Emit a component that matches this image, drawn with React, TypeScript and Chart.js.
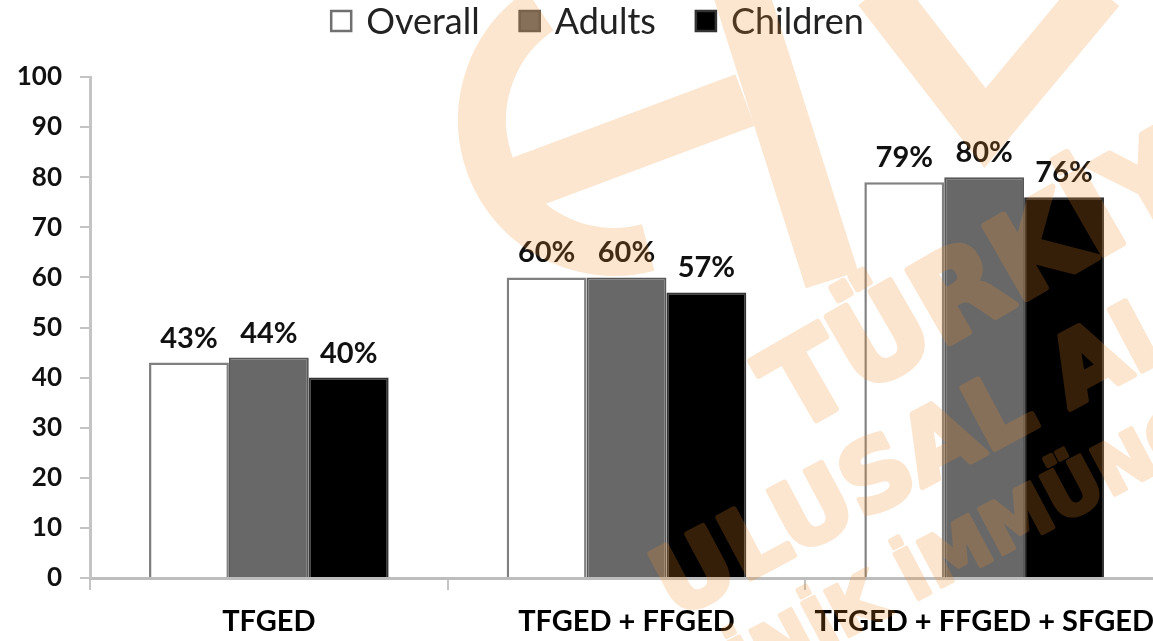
import React, { useEffect, useRef } from "react";
import { Chart, registerables } from "chart.js";

Chart.register(...registerables);

// ---- data ----
const categories = ["TFGED", "TFGED + FFGED", "TFGED + FFGED + SFGED"];
const seriesNames = ["Overall", "Adults", "Children"];
const overallValues = [43, 60, 79];
const adultsValues = [44, 60, 80];
const childrenValues = [40, 57, 76];
const yMin = 0;
const yMax = 100;
const yStep = 10;
const watermarkTexts = ["TÜRKİYE", "ULUSAL ALERJİ", "KLİNİK ", "İMMÜNOLOJİ"];

// ---- styles ----
const fills = ["#ffffff", "#686868", "#000000"];
const borders = ["#808080", "#585858", "#333333"];
const FONT = "Lato, 'Liberation Sans', Arial, sans-serif";
const WM_FONT = "'DejaVu Sans', 'Liberation Sans', Arial, sans-serif";

const valueLabelPlugin = {
  id: "valueLabels",
  afterDatasetsDraw(chart: any) {
    const ctx = chart.ctx;
    ctx.save();
    ctx.font = `bold 29px ${FONT}`;
    ctx.fillStyle = "#111";
    ctx.textAlign = "center";
    ctx.textBaseline = "alphabetic";
    chart.data.datasets.forEach((ds: any, di: number) => {
      const meta = chart.getDatasetMeta(di);
      meta.data.forEach((el: any, i: number) => {
        ctx.fillText(`${ds.data[i]}%`, el.x, el.y - 15);
      });
    });
    ctx.restore();
  },
};

const customLegendPlugin = {
  id: "customLegend",
  afterDraw(chart: any) {
    const ctx = chart.ctx;
    ctx.save();
    ctx.font = `36px ${FONT}`;
    ctx.textBaseline = "middle";
    ctx.textAlign = "left";
    const box = 22;
    const gap = 14;
    const spacing = 39;
    const widths = seriesNames.map((n) => box + gap + ctx.measureText(n).width);
    const total = widths.reduce((a, b) => a + b, 0) + spacing * (seriesNames.length - 1);
    let x = 597 - total / 2;
    const cy = 21;
    seriesNames.forEach((name, i) => {
      ctx.fillStyle = fills[i];
      ctx.fillRect(x, cy - box / 2, box, box);
      ctx.strokeStyle = i === 0 ? "#707070" : borders[i];
      ctx.lineWidth = 2.5;
      ctx.strokeRect(x + 1, cy - box / 2 + 1, box - 2, box - 2);
      ctx.fillStyle = "#222";
      ctx.fillText(name, x + box + gap, cy + 1);
      x += widths[i] + spacing;
    });
    ctx.restore();
  },
};

function drawRotatedText(c: CanvasRenderingContext2D, text: string, x: number, y: number, angleDeg: number, size: number) {
  c.save();
  c.translate(x, y);
  c.rotate((angleDeg * Math.PI) / 180);
  c.font = `bold ${size}px ${WM_FONT}`;
  c.textAlign = "left";
  c.textBaseline = "alphabetic";
  c.lineJoin = "round";
  c.lineWidth = size * 0.06;
  c.fillText(text, 0, 0);
  c.strokeText(text, 0, 0);
  c.restore();
}

const watermarkPlugin = {
  id: "watermark",
  afterDraw(chart: any) {
    const ctx = chart.ctx;
    const w = chart.width;
    const h = chart.height;
    const off = document.createElement("canvas");
    off.width = w;
    off.height = h;
    const c = off.getContext("2d")!;
    const col = "rgb(240,140,40)";
    c.strokeStyle = col;
    c.fillStyle = col;
    c.lineCap = "butt";
    // logo: arc
    c.lineWidth = 48;
    c.beginPath();
    c.arc(614, 120, 132, (75 * Math.PI) / 180, (236 * Math.PI) / 180, false);
    c.stroke();
    // crossbar
    c.lineWidth = 55;
    c.beginPath();
    c.moveTo(515, 186);
    c.lineTo(745, 100);
    c.stroke();
    // right leg
    c.beginPath();
    c.moveTo(740, -10);
    c.lineTo(832, 280);
    c.stroke();
    // V shape
    c.lineWidth = 50;
    c.lineJoin = "miter";
    c.beginPath();
    c.moveTo(878, -10);
    c.lineTo(985, 128);
    c.lineTo(1100, -10);
    c.stroke();
    // text lines
    drawRotatedText(c, watermarkTexts[0], 792, 434, -30, 115);
    drawRotatedText(c, watermarkTexts[1], 675, 619, -28, 95);
    c.save();
    c.font = `bold 70px ${WM_FONT}`;
    const kw = c.measureText(watermarkTexts[2]).width;
    c.restore();
    const a = (-28 * Math.PI) / 180;
    drawRotatedText(c, watermarkTexts[2] + watermarkTexts[3], 913 - kw * Math.cos(a), 602 - kw * Math.sin(a), -28, 70);
    ctx.save();
    ctx.globalAlpha = 0.22;
    ctx.drawImage(off, 0, 0);
    ctx.restore();
  },
};

export default function App() {
  const canvasRef = useRef<HTMLCanvasElement | null>(null);

  useEffect(() => {
    document.body.style.margin = "0";
    document.documentElement.style.overflow = "hidden";
    document.body.style.overflow = "hidden";
    const canvas = canvasRef.current;
    if (!canvas) return;
    const seriesData = [overallValues, adultsValues, childrenValues];
    const chart = new Chart(canvas, {
      type: "bar",
      data: {
        labels: categories,
        datasets: seriesNames.map((name, i) => ({
          label: name,
          data: seriesData[i],
          backgroundColor: fills[i],
          borderColor: borders[i],
          borderWidth: i === 0 ? 2.5 : 2,
          categoryPercentage: 0.67,
          barPercentage: 1.0,
        })),
      },
      options: {
        animation: false,
        responsive: false,
        maintainAspectRatio: false,
        layout: { padding: { top: 77, right: 7, left: 0, bottom: 0 } },
        plugins: {
          legend: { display: false },
          tooltip: { enabled: false },
        },
        scales: {
          x: {
            offset: true,
            grid: {
              display: true,
              drawOnChartArea: false,
              drawTicks: true,
              tickLength: 12,
              color: "#c4c4c4",
              lineWidth: 2,
            },
            border: { display: true, color: "#bdbdbd", width: 3 },
            ticks: {
              color: "#000",
              font: { family: FONT, size: 29, weight: "bold" },
              padding: 14,
              maxRotation: 0,
              minRotation: 0,
              autoSkip: false,
            },
            afterFit: (scale: any) => {
              scale.height = 63;
            },
          },
          y: {
            min: yMin,
            max: yMax,
            grid: {
              display: true,
              drawOnChartArea: false,
              drawTicks: true,
              tickLength: 10,
              color: "#c4c4c4",
              lineWidth: 2,
            },
            border: { display: true, color: "#c4c4c4", width: 3 },
            ticks: {
              stepSize: yStep,
              color: "#111",
              font: { family: FONT, size: 26, weight: "bold" },
              padding: 18,
            },
            afterFit: (scale: any) => {
              scale.width = 90;
            },
          },
        },
      } as any,
      plugins: [valueLabelPlugin, customLegendPlugin, watermarkPlugin],
    });
    return () => chart.destroy();
  }, []);

  return (
    <div style={{ width: 1170, height: 641, position: "relative" }}>
      <canvas ref={canvasRef} width={1170} height={641} style={{ display: "block" }} />
    </div>
  );
}
